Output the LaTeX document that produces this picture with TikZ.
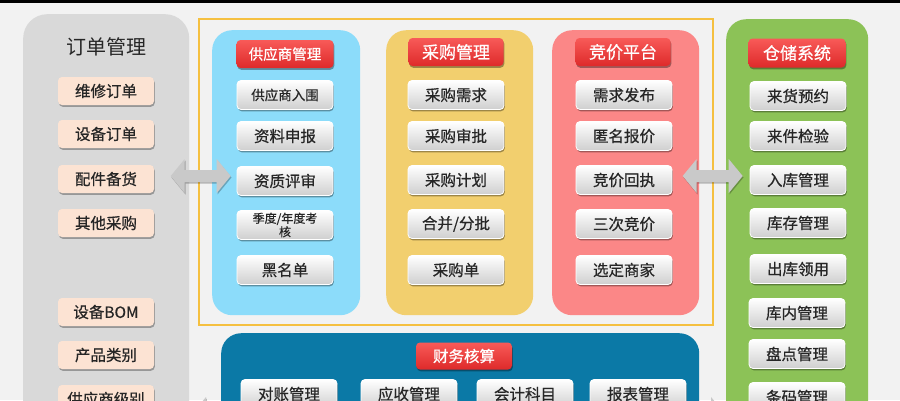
\documentclass[tikz,border=0pt]{standalone}
\usepackage{fontspec}
\setmainfont{Noto Sans CJK SC}
\newfontfamily\medfont{Noto Sans CJK SC}[FakeBold=0.6]
\usetikzlibrary{shadows,calc}
\definecolor{bg}{HTML}{F2F2F2}
\definecolor{pgray}{HTML}{D9D9D9}
\definecolor{pblue}{HTML}{8CDCFA}
\definecolor{pyellow}{HTML}{F2CF6E}
\definecolor{pred}{HTML}{FB8787}
\definecolor{pgreen}{HTML}{8CC257}
\definecolor{pdark}{HTML}{0B79A6}
\definecolor{fyellow}{HTML}{F5C040}
\definecolor{hdtop}{HTML}{F85A58}
\definecolor{hdbot}{HTML}{DE2A2A}
\definecolor{peach}{HTML}{FCE3D3}
\definecolor{arrowC}{HTML}{C9C9C9}
\definecolor{itembot}{HTML}{CFCFCF}
\tikzset{
  panel/.style={rounded corners=20pt, anchor=north west, inner sep=0pt},
  item/.style={rounded corners=4pt, minimum width=96pt, minimum height=29pt, inner sep=0pt,
    draw=white, line width=0.8pt, top color=white, bottom color=itembot,
    drop shadow={shadow xshift=0.8pt, shadow yshift=-1.8pt, opacity=0.35, fill=black},
    font=\medfont\fontsize{15.5}{17}\selectfont, text=black!85},
  lbox/.style={rounded corners=4pt, minimum width=96pt, minimum height=28pt, inner sep=0pt,
    fill=peach, drop shadow={shadow xshift=0.8pt, shadow yshift=-1.8pt, opacity=0.3, fill=black},
    font=\medfont\fontsize{15.5}{17}\selectfont, text=black!85},
  hdr/.style={rounded corners=4pt, minimum width=96pt, minimum height=28pt, inner sep=0pt,
    top color=hdtop, bottom color=hdbot,
    drop shadow={shadow xshift=0.8pt, shadow yshift=-1.8pt, opacity=0.35, fill=black},
    text=white},
  dblarrow/.pic={
    \fill[arrowC, drop shadow={shadow xshift=0.8pt, shadow yshift=-1.5pt, opacity=0.25, fill=black}]
      (-30,0) -- (-16,-17) -- (-16,-6) -- (16,-6) -- (16,-17) -- (30,0)
      -- (16,17) -- (16,6) -- (-16,6) -- (-16,17) -- cycle;
  }
}
\begin{document}
\begin{tikzpicture}[x=1pt,y=-1pt]
\useasboundingbox (0,0) rectangle (900,400);
\clip (0,0) rectangle (900,400);
\fill[bg] (0,0) rectangle (900,400);
\fill[black] (0,0) rectangle (900,3);

% partially visible arrows at the bottom (behind panels)
\path (222,414) pic {dblarrow};
\path (695,414) pic {dblarrow};

% left gray panel
\node[panel, rounded corners=24pt, fill=pgray, minimum width=166pt, minimum height=420pt] (left) at (23,14) {};
\node[font=\fontsize{20}{22}\selectfont, text=black!85] (ltitle) at (106,47) {订单管理};
\node[lbox] (l1) at (106,91) {维修订单};
\node[lbox] (l2) at (106,134) {设备订单};
\node[lbox] (l3) at (106,179) {配件备货};
\node[lbox] (l4) at (106,223) {其他采购};
\node[lbox] (l5) at (106,312) {设备BOM};
\node[lbox] (l6) at (106,355) {产品类别};
\node[lbox] (l7) at (106,399) {供应商级别};

% yellow outline frame
\draw[fyellow, line width=1.4pt] (199,19) rectangle (713,325);
\node[anchor=north west, minimum width=514pt, minimum height=306pt, inner sep=0pt] (frame) at (199,19) {};

% supplier panel
\node[panel, fill=pblue, minimum width=148pt, minimum height=285pt] (sup) at (212,30) {};
\node[hdr, minimum width=97pt, font=\medfont\fontsize{14.5}{16}\selectfont] (h1) at (285,54) {供应商管理};
\node[item, font=\medfont\fontsize{13.5}{15}\selectfont] (s1) at (285,95) {供应商入围};
\node[item] (s2) at (285,136) {资料申报};
\node[item] (s3) at (285,181) {资质评审};
\node[item, align=center, font=\medfont\fontsize{12}{13.5}\selectfont] (s4) at (285,225) {季度/年度考\\核};
\node[item] (s5) at (285,270) {黑名单};

% purchase panel
\node[panel, fill=pyellow, minimum width=147pt, minimum height=285pt] (pur) at (386,30) {};
\node[hdr, minimum width=95pt, font=\medfont\fontsize{17}{18}\selectfont] (h2) at (456,52) {采购管理};
\node[item] (p1) at (456,95) {采购需求};
\node[item] (p2) at (456,136) {采购审批};
\node[item] (p3) at (456,180) {采购计划};
\node[item] (p4) at (456,224) {合并/分批};
\node[item] (p5) at (456,270) {采购单};

% bidding panel
\node[panel, fill=pred, minimum width=147pt, minimum height=285pt] (bid) at (552,30) {};
\node[hdr, minimum width=95pt, font=\medfont\fontsize{17}{18}\selectfont] (h3) at (623,52) {竞价平台};
\node[item] (b1) at (624,95) {需求发布};
\node[item] (b2) at (624,136) {匿名报价};
\node[item] (b3) at (624,180) {竞价回执};
\node[item] (b4) at (624,224) {三次竞价};
\node[item] (b5) at (624,270) {选定商家};

% warehouse panel
\node[panel, fill=pgreen, minimum width=142pt, minimum height=420pt] (wh) at (726,19) {};
\node[hdr, minimum width=97pt, minimum height=29pt, font=\medfont\fontsize{17}{18}\selectfont] (h4) at (797,53) {仓储系统};
\node[item] (w1) at (798,96) {来货预约};
\node[item] (w2) at (798,136) {来件检验};
\node[item] (w3) at (798,180) {入库管理};
\node[item] (w4) at (798,223) {库存管理};
\node[item] (w5) at (798,269) {出库领用};
\node[item] (w6) at (797,313) {库内管理};
\node[item] (w7) at (797,354) {盘点管理};
\node[item] (w8) at (797,397) {条码管理};

% finance panel
\node[panel, fill=pdark, minimum width=478pt, minimum height=110pt] (fin) at (221,333) {};
\node[hdr, minimum height=27pt, font=\medfont\fontsize{15.5}{17}\selectfont] (h5) at (464,356) {财务核算};
\node[item] (f1) at (289,394) {对账管理};
\node[item] (f2) at (409,394) {应收管理};
\node[item] (f3) at (525,394) {会计科目};
\node[item] (f4) at (638,394) {报表管理};

% double arrows between panels
\coordinate (a1) at ($(left.east |- s3)!0.5!(sup.west |- s3) + (0,-5)$);
\coordinate (a2) at ($(bid.east |- b3)!0.5!(wh.west |- b3) + (0,-4)$);
\path (a1) pic {dblarrow};
\path (a2) pic {dblarrow};
\end{tikzpicture}
\end{document}
